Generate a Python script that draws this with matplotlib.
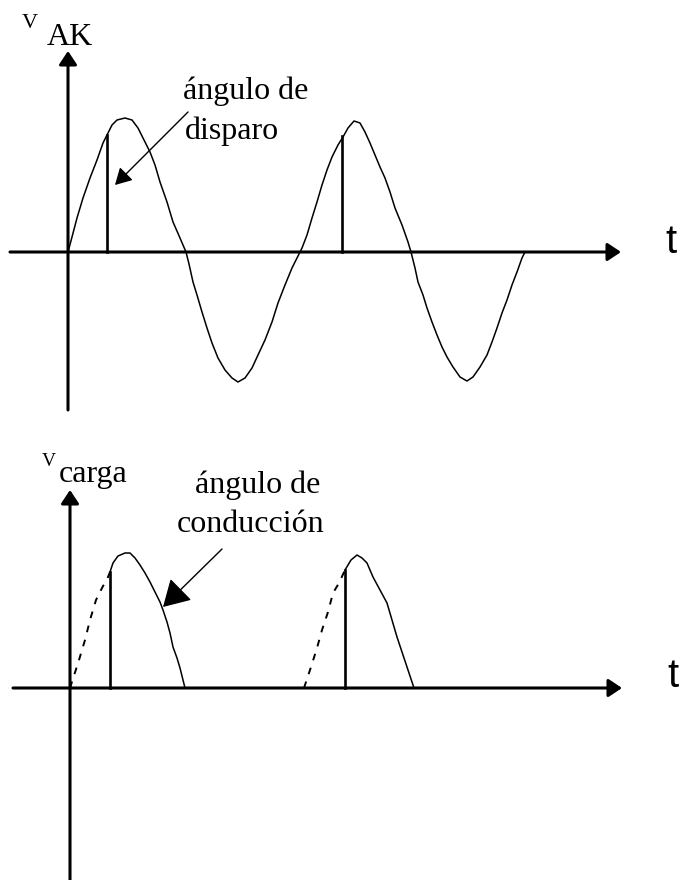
import matplotlib
matplotlib.use("Agg")
import matplotlib.pyplot as plt

# v_AK: points (t, v), origin at the axes crossing
vak_t = [0, 4, 9, 15, 22, 29, 35, 39, 44, 49, 57, 64, 70, 77, 82, 87, 92, 99, 105, 112, 118,
         121, 125, 129, 134, 139, 144, 150, 157, 164, 170, 177, 184, 190, 197, 204, 210, 217, 224, 232,
         234, 239, 244, 249, 254, 259, 264, 270, 275, 280, 286, 292, 297, 302, 307, 312, 317, 322, 327, 334, 340, 343,
         347, 350, 355, 359, 364, 369, 374, 379, 385, 392, 399, 405, 412, 419, 424, 429, 434, 439, 444, 449, 454, 457]
vak_v = [0, 15, 34, 54, 74, 92, 109, 117, 127, 132, 134, 132, 124, 110, 100, 87, 70, 50, 30, 14, 0,
         -12, -30, -43, -60, -76, -91, -106, -118, -126, -130, -126, -116, -103, -88, -70, -51, -33, -16, 0,
         4, 17, 34, 50, 67, 82, 95, 107, 115, 124, 131, 129, 120, 109, 97, 85, 74, 60, 44, 27, 10, 0,
         -16, -30, -43, -56, -70, -83, -95, -105, -115, -125, -129, -125, -115, -103, -90, -76, -61, -48, -33, -20, -6, 0]
vak_fire_t = [39, 274]
vak_fire_v = [117, 116]

# v_carga: dashed (blocked) part and solid (conducting) part of each pulse
carga1_dash_t = [0, 9, 15, 20, 26, 32, 38, 40]
carga1_dash_v = [0, 28, 48, 68, 88, 100, 111, 116]
carga1_t = [40, 43, 48, 55, 60, 65, 70, 75, 80, 85, 90, 93, 97, 100, 103, 107, 110, 115]
carga1_v = [116, 125, 132, 135, 135, 130, 123, 115, 106, 96, 86, 78, 66, 55, 41, 30, 20, 0]
carga2_dash_t = [234, 241, 247, 252, 258, 263, 269, 275]
carga2_dash_v = [0, 21, 40, 58, 76, 95, 105, 118]
carga2_t = [275, 281, 287, 292, 297, 303, 310, 317, 322, 327, 332, 337, 342, 344]
carga2_v = [118, 128, 133, 130, 125, 111, 98, 85, 68, 51, 36, 21, 6, 0]
carga_fire_t = [40, 275]
carga_fire_v = [116, 118]

serif = "Liberation Serif"
sans = "Liberation Sans"
axis_arrow = dict(arrowstyle="-|>,head_length=0.45,head_width=0.3", mutation_scale=18,
                  lw=2.2, color="black", shrinkA=0, shrinkB=0)
dash = (0, (3.5, 4))

fig = plt.figure(figsize=(6.86, 8.80), dpi=100)
ax1 = fig.add_axes([0, 0.5, 1, 0.5])
ax2 = fig.add_axes([0, 0, 1, 0.5])

# ---- top: v_AK ----
ax1.set_xlim(-68, 618)
ax1.set_ylim(-188, 252)
ax1.axis("off")
ax1.annotate("", xy=(553, 0), xytext=(-58, 0), arrowprops=axis_arrow)
ax1.annotate("", xy=(0, 201), xytext=(0, -158), arrowprops=axis_arrow)
ax1.plot(vak_t, vak_v, color="black", lw=1.1)
for t, v in zip(vak_fire_t, vak_fire_v):
    ax1.plot([t, t], [0, v], color="black", lw=1.9)
ax1.annotate("", xy=(47, 67), xytext=(120, 140),
             arrowprops=dict(arrowstyle="-|>,head_length=0.5,head_width=0.28", mutation_scale=20,
                             lw=1.0, color="black", shrinkA=0, shrinkB=0))
ax1.text(115, 153, "ángulo de", family=serif, fontsize=23, va="baseline")
ax1.text(117, 113, "disparo", family=serif, fontsize=23, va="baseline")
ax1.text(-46, 224, "V", family=serif, fontsize=16, va="baseline")
ax1.text(-21, 207, "AK", family=serif, fontsize=23, va="baseline")
ax1.text(597, -1, "t", family=sans, fontsize=29, va="baseline")

# ---- bottom: v_carga ----
ax2.set_xlim(-70, 616)
ax2.set_ylim(-192, 248)
ax2.axis("off")
ax2.annotate("", xy=(552, 0), xytext=(-57, 0), arrowprops=axis_arrow)
ax2.annotate("", xy=(0, 198), xytext=(0, -192), arrowprops=axis_arrow)
ax2.plot(carga1_dash_t, carga1_dash_v, color="black", lw=1.4, linestyle=dash)
ax2.plot(carga2_dash_t, carga2_dash_v, color="black", lw=1.4, linestyle=dash)
ax2.plot(carga1_t, carga1_v, color="black", lw=1.1)
ax2.plot(carga2_t, carga2_v, color="black", lw=1.1)
for t, v in zip(carga_fire_t, carga_fire_v):
    ax2.plot([t, t], [0, v], color="black", lw=1.9)
ax2.annotate("", xy=(93, 81), xytext=(152, 139),
             arrowprops=dict(arrowstyle="-|>,head_length=0.55,head_width=0.32", mutation_scale=30,
                             lw=1.0, color="black", shrinkA=0, shrinkB=0))
ax2.text(125, 195, "ángulo de", family=serif, fontsize=23, va="baseline")
ax2.text(107, 156, "conducción", family=serif, fontsize=23, va="baseline")
ax2.text(-28, 222, "V", family=serif, fontsize=14, va="baseline")
ax2.text(-11, 206, "carga", family=serif, fontsize=23, va="baseline")
ax2.text(597, 1, "t", family=sans, fontsize=29, va="baseline")

fig.savefig("out.png", dpi=100, facecolor="white")
